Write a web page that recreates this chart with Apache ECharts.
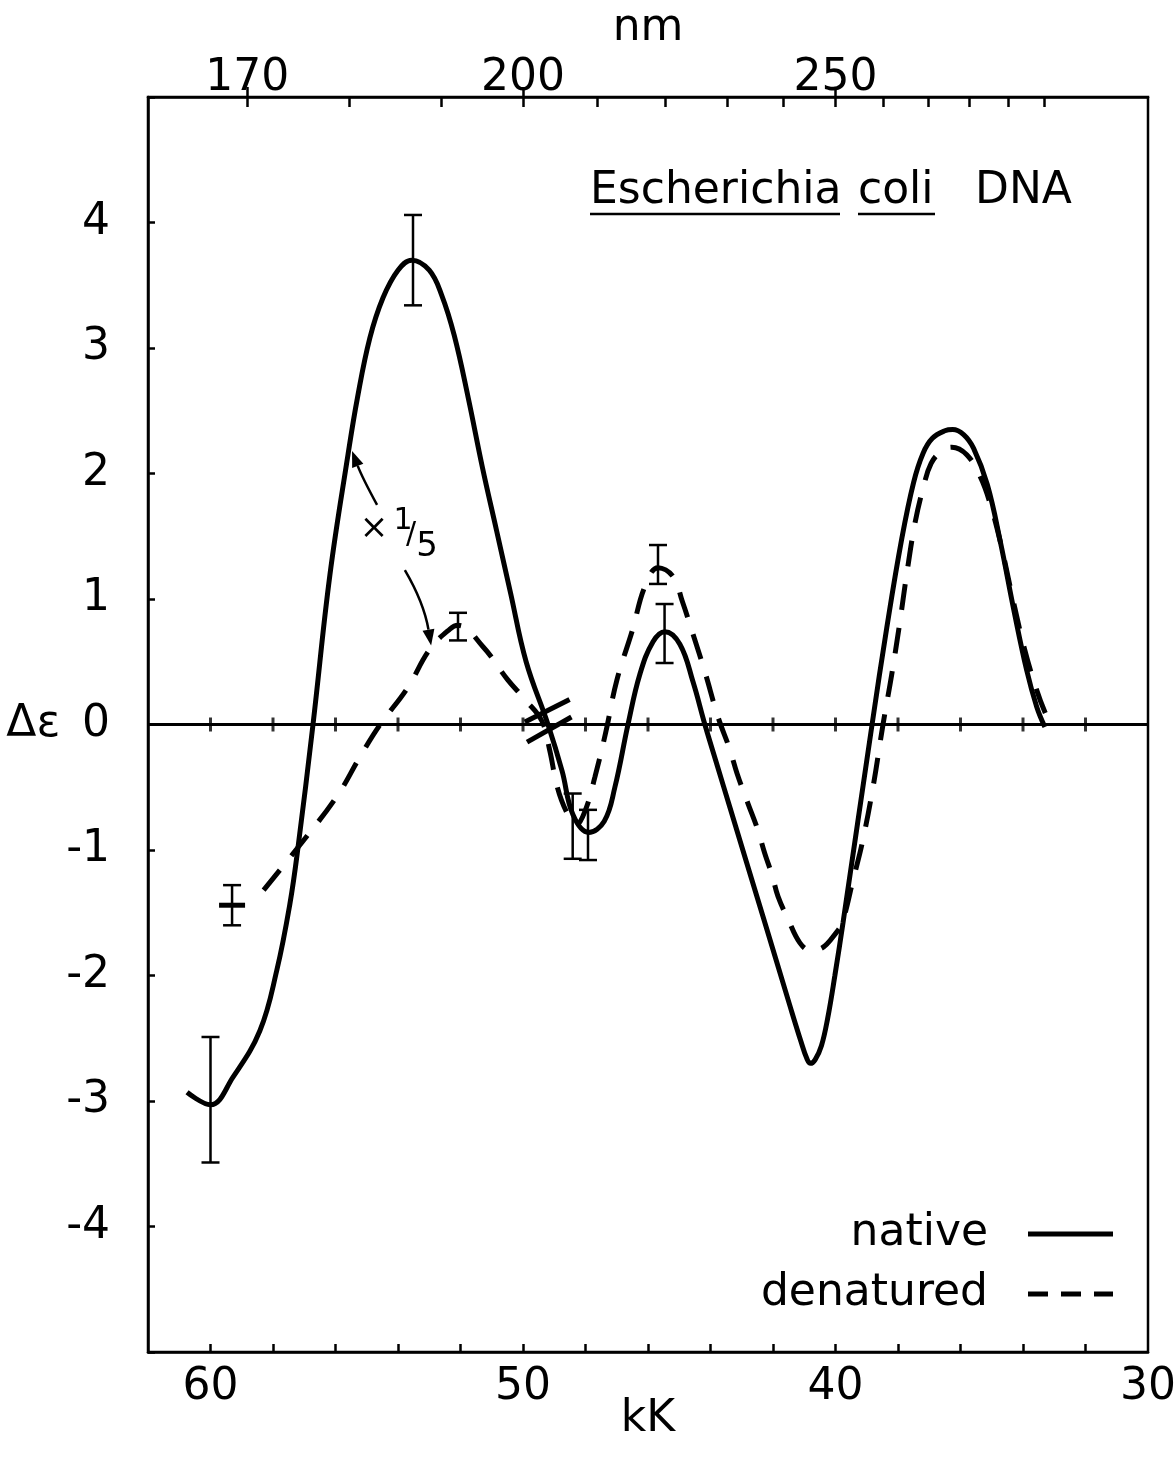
<!DOCTYPE html>
<html><head><meta charset="utf-8">
<script src="https://cdn.jsdelivr.net/npm/echarts@6/dist/echarts.min.js"></script>
<style>html,body{margin:0;padding:0;background:#fff}#c{width:1176px;height:1462px}</style>
</head><body><div id="c"></div>
<script>
// ---------- data ----------
const kKTicks = [32,34,36,38,40,42,44,46,48,50,52,54,56,58,60];
const kKLabels = [60,50,40,30];
const nmTicks = [170,180,190,200,210,220,230,240,250,260,270,280,290,300];
const nmLabels = [170,200,250];
const yLabelRange = [-4,4];

const nativeData = [
 [60.75,-2.93],[60.0,-3.03],[59.28,-2.81],[58.42,-2.44],[57.88,-1.96],[57.46,-1.43],[57.2,-0.98],
 [56.72,0],[56.18,1.19],[55.6,2.15],[55.3,2.6],[54.9,3.08],[54.48,3.4],[54.0,3.62],[53.56,3.70],
 [53.0,3.62],[52.6,3.42],[52.2,3.1],[51.75,2.6],[51.3,2.05],[50.85,1.55],[50.4,1.05],[49.9,0.5],
 [49.2,0],[48.75,-0.37],[48.4,-0.72],[47.9,-0.86],[47.4,-0.77],[47.06,-0.5],[46.64,0],[46.26,0.4],
 [45.84,0.66],[45.46,0.74],[44.98,0.64],[44.56,0.34],[44.18,0],[43.78,-0.33],[43.38,-0.66],
 [42.32,-1.53],[41.46,-2.24],[41.1,-2.53],[40.92,-2.66],[40.8,-2.70],[40.65,-2.67],[40.45,-2.56],
 [40.25,-2.34],[40.02,-2.0],[39.76,-1.58],[38.83,0],[38.36,0.77],[37.88,1.48],
 [37.5,1.93],[37.2,2.16],[36.9,2.28],[36.5,2.34],[36.25,2.35],[35.9,2.31],[35.58,2.2],[35.14,1.91],
 [34.72,1.45],[34.3,0.92],[33.88,0.43],[33.56,0.14],[33.3,-0.02]
];
const denaturedData = [
 [58.3,-1.32],[57.14,-0.96],[55.95,-0.57],[55.2,-0.25],[54.57,0],[53.7,0.29],[52.98,0.6],[52.34,0.76],
 [52.08,0.79],[51.28,0.62],[50.5,0.36],[49.94,0.2],[49.4,0.03],[49.15,-0.2],[48.9,-0.5],[48.6,-0.7],
 [48.3,-0.8],[48.0,-0.68],[47.7,-0.42],[47.35,-0.06],[47.0,0.35],[46.5,0.75],[46.1,1.1],[45.68,1.25],
 [45.2,1.18],[44.9,0.98],[44.56,0.72],[44.18,0.42],[43.76,0.06],[43.38,-0.2],[43.15,-0.39],[42.8,-0.63],
 [42.5,-0.83],[42.26,-1.03],[42.03,-1.2],[41.84,-1.37],[41.52,-1.55],[41.14,-1.74],[40.8,-1.8],[40.5,-1.79],
 [39.95,-1.65],[39.76,-1.56],[39.44,-1.24],[39.15,-0.95],[38.8,-0.5],[38.48,0],[38.2,0.4],[37.95,0.8],
 [37.72,1.2],[37.46,1.6],[37.2,1.88],[36.94,2.08],[36.6,2.18],[36.28,2.21],[35.8,2.15],[35.36,1.97],
 [35.04,1.75],[34.72,1.45],[34.37,1.05],[33.95,0.6],[33.57,0.28],[33.3,0.1],[33.04,-0.02]
];
const nativeErrKK   = [60.0, 53.52, 47.92, 45.47];
const nativeErrLow  = [-3.49, 3.34, -1.08, 0.49];
const nativeErrHigh = [-2.49, 4.06, -0.68, 0.96];
const denatErrKK    = [59.31, 52.08, 48.41, 45.68];
const denatErrLow   = [-1.60, 0.67, -1.07, 1.12];
const denatErrHigh  = [-1.28, 0.89, -0.55, 1.43];
const denatErrCross = [1, 0, 0, 0];
const breakMarks = [[[49.94,0.02],[48.51,0.2]], [[49.87,-0.14],[48.45,0.06]]];
const arrow1 = {from:[54.67,1.75], ctrl:[55.15,1.97], to:[55.47,2.18]};
const arrow2 = {from:[53.78,1.23], ctrl:[53.17,0.97], to:[52.94,0.63]};
const fracParts = [
 {t:'×', at:[54.77,1.56], fs:34},
 {t:'1', at:[53.84,1.62], fs:30},
 {t:'/', at:[53.58,1.51], fs:30},
 {t:'5', at:[53.07,1.41], fs:34}
];

// ---------- chart ----------
const FONT = 'DejaVu Sans';
const BLK = '#000';
const chart = echarts.init(document.getElementById('c'), null, {renderer:'canvas'});

function errRender(params, api){
  const x = api.value(0), lo = api.value(1), hi = api.value(2), cross = api.value(3);
  const pLo = api.coord([x, lo]), pHi = api.coord([x, hi]);
  const w = 9, st = {stroke:BLK, lineWidth:2.5};
  const ch = [
    {type:'line', shape:{x1:pHi[0],y1:pHi[1],x2:pLo[0],y2:pLo[1]}, style:st},
    {type:'line', shape:{x1:pHi[0]-w,y1:pHi[1],x2:pHi[0]+w,y2:pHi[1]}, style:st},
    {type:'line', shape:{x1:pLo[0]-w,y1:pLo[1],x2:pLo[0]+w,y2:pLo[1]}, style:st}
  ];
  if (cross) {
    const c = api.coord([x, (lo+hi)/2]);
    ch.push({type:'line', shape:{x1:c[0]-13,y1:c[1],x2:c[0]+13,y2:c[1]}, style:{stroke:BLK,lineWidth:5}});
  }
  return {type:'group', children:ch};
}

const lineStyleAxis = {color:BLK, width:2.5};
const kKRange = {min:30, max:62, inverse:true};
const legendText = {fontSize:44, color:BLK, fontFamily:FONT, padding:[0,35,0,0]};

const option = {
  backgroundColor:'#fff',
  animation:false,
  textStyle:{fontFamily:FONT, color:BLK},
  grid:{left:148, right:28, top:97, bottom:110, show:true, borderColor:BLK, borderWidth:2.5,
        containLabel:false, outerBoundsMode:'none'},
  xAxis:[
    Object.assign({type:'value', position:'bottom',
      axisLine:{show:true, onZero:false, lineStyle:lineStyleAxis},
      axisTick:{show:true, inside:true, length:8, customValues:kKTicks, lineStyle:{color:BLK,width:2.5}},
      axisLabel:{customValues:kKLabels, fontSize:44, color:BLK, margin:14, fontFamily:FONT},
      splitLine:{show:false},
      name:'kK', nameLocation:'middle', nameGap:46, nameMoveOverlap:false,
      nameTextStyle:{fontSize:44, color:BLK, fontFamily:FONT}
    }, kKRange),
    Object.assign({type:'value', position:'top',
      axisLine:{show:true, onZero:false, lineStyle:lineStyleAxis},
      axisTick:{show:true, inside:true, length:10, customValues:nmTicks.map(n=>10000/n), lineStyle:{color:BLK,width:2.5}},
      axisLabel:{show:false}, splitLine:{show:false}
    }, kKRange),
    Object.assign({type:'value', position:'top',
      axisLine:{show:false, onZero:false},
      axisTick:{show:true, inside:false, length:10, customValues:nmLabels.map(n=>10000/n), lineStyle:{color:BLK,width:2.5}},
      axisLabel:{show:true, customValues:nmLabels.map(n=>10000/n), formatter:v=>String(Math.round(10000/v)),
        fontSize:44, color:BLK, margin:-4, fontFamily:FONT},
      splitLine:{show:false},
      name:'nm', nameLocation:'middle', nameGap:46,
      nameTextStyle:{fontSize:44, color:BLK, fontFamily:FONT}
    }, kKRange)
  ],
  yAxis:{type:'value', min:-5, max:5, interval:1,
    axisLine:{show:true, onZero:false, lineStyle:lineStyleAxis},
    axisTick:{show:true, inside:true, length:7, lineStyle:{color:BLK,width:2.5}},
    axisLabel:{fontSize:44, color:BLK, margin:38, fontFamily:FONT,
      formatter:v=> (v<yLabelRange[0]||v>yLabelRange[1]) ? '' : String(v)},
    splitLine:{show:false},
    name:'Δε', nameLocation:'middle', nameRotate:0, nameGap:62,
    nameTextStyle:{fontSize:44, color:BLK, fontFamily:FONT}
  },
  legend:[
    {data:[{name:'native', icon:'path://M0,0h85v5h-85z'}], right:58, top:1207, orient:'horizontal', align:'right',
     itemWidth:85, itemHeight:5, selectedMode:false, textStyle:legendText},
    {data:[{name:'denatured', icon:'path://M0,0h20v5h-20zM33,0h20v5h-20zM66,0h19v5h-19z'}], right:58, top:1267,
     orient:'horizontal', align:'right', itemWidth:85, itemHeight:5, selectedMode:false, textStyle:legendText}
  ],
  series:[
    {name:'zero', type:'scatter', xAxisIndex:0, yAxisIndex:0, silent:true,
     data:kKTicks.map(k=>[k,0]), symbol:'rect', symbolSize:[3,14], itemStyle:{color:BLK}, z:3,
     markLine:{silent:true, symbol:'none', label:{show:false}, animation:false,
       lineStyle:{color:BLK, width:3, type:'solid'},
       data:[{yAxis:0}].concat(breakMarks.map(b=>[{coord:b[0], lineStyle:{width:5,color:BLK,type:'solid'}},{coord:b[1]}]))}
    },
    {name:'native', type:'line', data:nativeData, smooth:0.4, symbol:'none', showSymbol:false,
     lineStyle:{color:BLK, width:5, type:'solid'}, itemStyle:{color:BLK}, z:4},
    {name:'denatured', type:'line', data:denaturedData, smooth:0.4, symbol:'none', showSymbol:false,
     lineStyle:{color:BLK, width:5, type:[26,18]}, itemStyle:{color:BLK}, z:4},
    {name:'native err', type:'custom', renderItem:errRender, encode:{x:0,y:[1,2]}, z:5,
     data:nativeErrKK.map((k,i)=>[k, nativeErrLow[i], nativeErrHigh[i], 0])},
    {name:'denatured err', type:'custom', renderItem:errRender, encode:{x:0,y:[1,2]}, z:5,
     data:denatErrKK.map((k,i)=>[k, denatErrLow[i], denatErrHigh[i], denatErrCross[i]])}
  ]
};
chart.setOption(option);

// ---------- annotations (anchored to data coordinates) ----------
function px(p){ return chart.convertToPixel({xAxisIndex:0, yAxisIndex:0}, p); }
function arrowGraphics(a){
  const s = px(a.from), c = px(a.ctrl), e = px(a.to);
  let dx = e[0]-c[0], dy = e[1]-c[1]; const L = Math.hypot(dx,dy); dx/=L; dy/=L;
  const len = 16, hw = 6;
  const bx = e[0]-dx*len, by = e[1]-dy*len;
  return [
    {type:'bezierCurve', shape:{x1:s[0],y1:s[1],x2:bx,y2:by,cpx1:c[0],cpy1:c[1]}, style:{stroke:BLK, lineWidth:2.5, fill:null}},
    {type:'polygon', shape:{points:[[e[0],e[1]],[bx-dy*hw,by+dx*hw],[bx+dy*hw,by-dx*hw]]}, style:{fill:BLK}}
  ];
}
const g = [];
arrowGraphics(arrow1).forEach(x=>g.push(x));
arrowGraphics(arrow2).forEach(x=>g.push(x));
fracParts.forEach(f=>{
  const p = px(f.at);
  g.push({type:'text', x:p[0], y:p[1], style:{text:f.t, fontSize:f.fs, fontFamily:FONT, fill:BLK, align:'center', verticalAlign:'middle'}});
});
// title
const titleParts = [{t:'Escherichia', x:590, ul:[590,840]},{t:'coli', x:858, ul:[858,935]},{t:'DNA', x:975, ul:null}];
titleParts.forEach(tp=>{
  g.push({type:'text', x:tp.x, y:192, style:{text:tp.t, fontSize:44, fontFamily:FONT, fill:BLK, align:'left', verticalAlign:'middle'}});
  if (tp.ul) g.push({type:'line', shape:{x1:tp.ul[0],y1:214,x2:tp.ul[1],y2:214}, style:{stroke:BLK,lineWidth:2.5}});
});
chart.setOption({graphic:{elements:g}});
</script>
</body></html>
